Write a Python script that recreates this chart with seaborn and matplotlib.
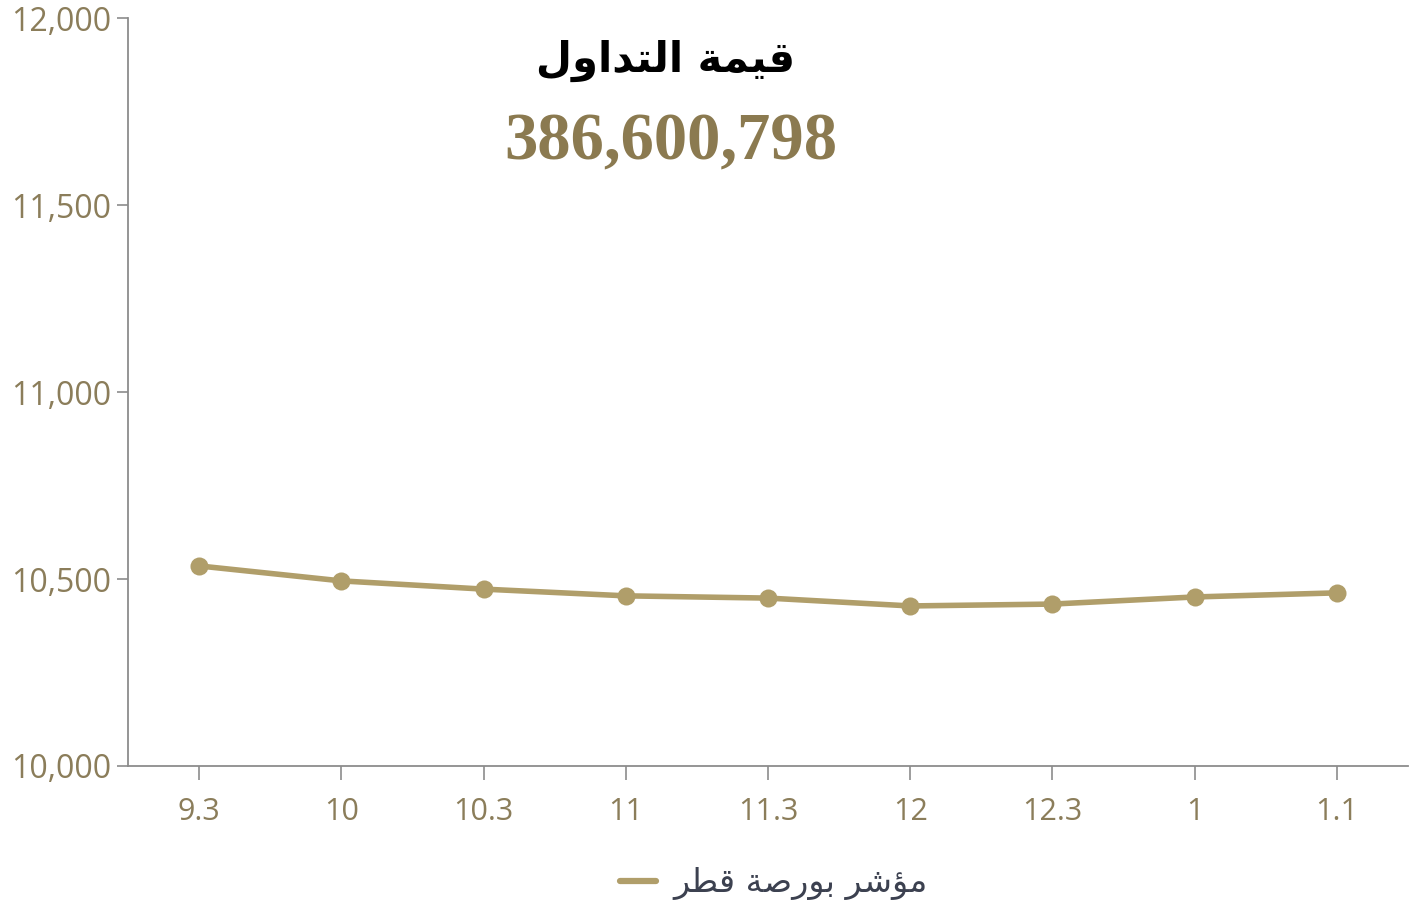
import matplotlib
matplotlib.use("Agg")
import matplotlib.pyplot as plt
from matplotlib.lines import Line2D
import seaborn as sns
import pandas as pd

# Data
categories = ["9.3", "10", "10.3", "11", "11.3", "12", "12.3", "1", "1.1"]
index_values = [10535, 10495, 10473, 10455, 10449, 10428, 10433, 10452, 10463]
y_ticks = [10000, 10500, 11000, 11500, 12000]
y_tick_labels = ["10,000", "10,500", "11,000", "11,500", "12,000"]

# Arabic strings pre-shaped (presentation forms, visual order)
title_ar = "\uFEDD\uFEED\uFE8D\uFEAA\uFE98\uFEDF\uFE8D \uFE94\uFEE4\uFEF4\uFED7"  # قيمة التداول
legend_ar = "\uFEAE\uFEC4\uFED7 \uFE94\uFEBB\uFEAD\uFEEE\uFE91 \uFEAE\uFEB7\uFE86\uFEE3"  # مؤشر بورصة قطر
value_text = "386,600,798"

line_color = "#B09E6A"
tick_color = "#8B7D5A"
axis_color = "#8C8C8C"

sns.set_theme(style="white")
plt.rcParams["font.family"] = ["Open Sans", "DejaVu Sans"]

df = pd.DataFrame({"x": range(len(categories)), "y": index_values})

fig = plt.figure(figsize=(14.19, 9.05), dpi=100)
ax = fig.add_axes([0.0902, 0.1536, 0.902, 0.8264])

sns.lineplot(data=df, x="x", y="y", ax=ax, color=line_color, linewidth=4,
             marker="o", markersize=13, markeredgewidth=0, markeredgecolor=line_color)

ax.set_xlim(-0.5, len(categories) - 0.5)
ax.set_ylim(10000, 12000)
ax.set_xticks(range(len(categories)))
ax.set_xticklabels(categories)
ax.set_yticks(y_ticks)
ax.set_yticklabels(y_tick_labels)
ax.set_xlabel("")
ax.set_ylabel("")

for s in ["top", "right"]:
    ax.spines[s].set_visible(False)
for s in ["left", "bottom"]:
    ax.spines[s].set_color(axis_color)
    ax.spines[s].set_linewidth(1.3)

ax.tick_params(axis="x", which="major", direction="out", length=10, width=1.2,
               color=axis_color, labelcolor=tick_color, labelsize=22, pad=12, bottom=True)
ax.tick_params(axis="y", which="major", direction="out", length=8, width=1.2,
               color=axis_color, labelcolor=tick_color, labelsize=23, pad=4, left=True)

# Overlay texts
fig.text(0.469, 0.933, title_ar, ha="center", va="center", fontsize=30,
         fontweight="bold", color="black", family=["DejaVu Sans"])
fig.text(0.473, 0.842, value_text, ha="center", va="center", fontsize=48,
         fontweight="bold", color="#8B7A50", family=["Liberation Serif"])

# Legend
handle = Line2D([], [], color=line_color, linewidth=4.5)
leg = fig.legend([handle], [legend_ar], loc="center", bbox_to_anchor=(0.545, 0.024),
                 frameon=False, fontsize=24, handlelength=1.1, handletextpad=0.5)
for t in leg.get_texts():
    t.set_color("#3C4150")
    t.set_family(["DejaVu Sans"])

fig.savefig("out.png", dpi=100)
